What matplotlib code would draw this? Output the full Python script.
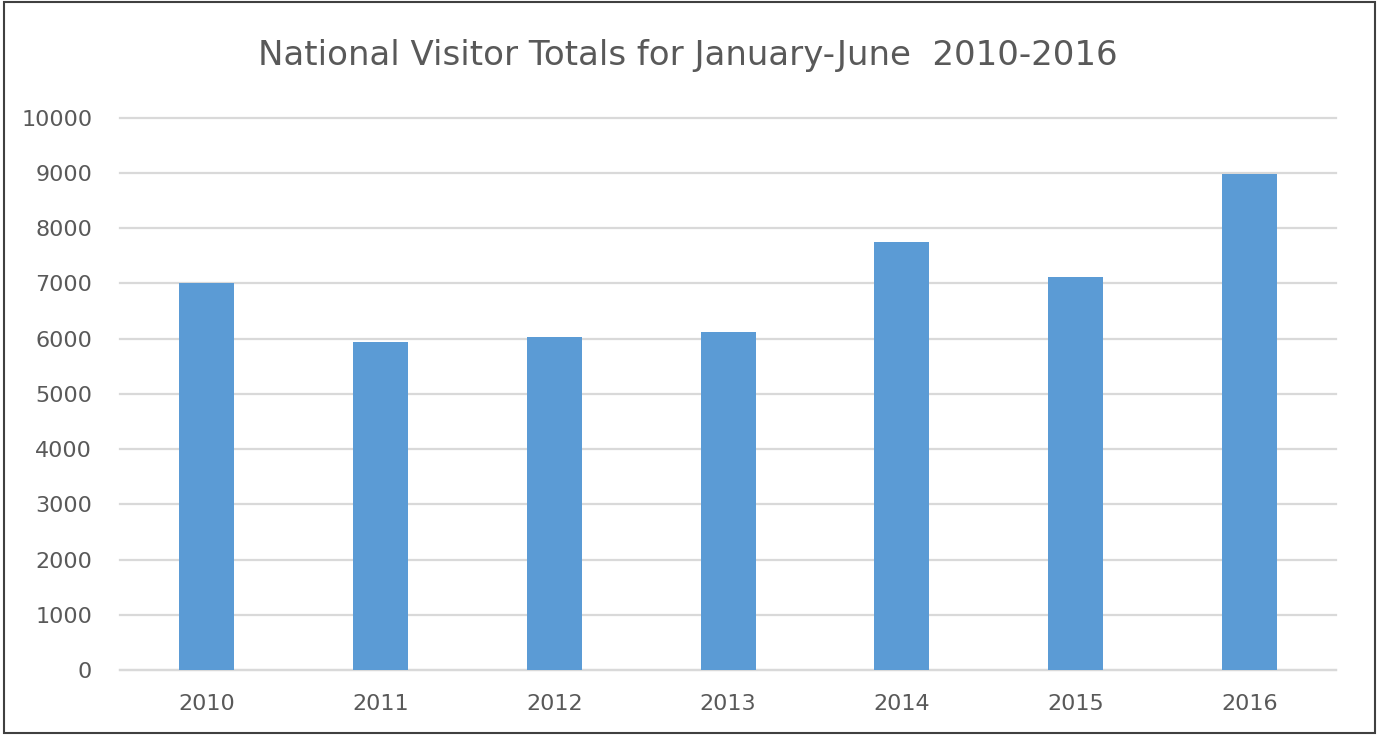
import matplotlib
matplotlib.use('Agg')
import matplotlib.pyplot as plt
from matplotlib.patches import Rectangle

# datos
years = ['2010', '2011', '2012', '2013', '2014', '2015', '2016']
visitors = [7010, 5930, 6030, 6110, 7740, 7110, 8980]
yticks = list(range(0, 10001, 1000))

fig = plt.figure(figsize=(13.79, 7.35), dpi=100)
ax = fig.add_axes([0.087, 0.0884, 0.882, 0.7516])

ax.bar(range(len(years)), visitors, width=0.317, color='#5B9BD5', zorder=3)

ax.set_xlim(-0.5, len(years) - 0.5)
ax.set_ylim(0, 10000)
ax.set_yticks(yticks)
ax.set_xticks(range(len(years)))
ax.set_xticklabels(years)
ax.yaxis.grid(True, color='#D9D9D9', linewidth=1.6, zorder=0)
for gl in ax.get_ygridlines():
    gl.set_clip_on(False)
ax.tick_params(axis='both', length=0, labelsize=16, labelcolor='#595959')
ax.tick_params(axis='y', pad=20)
ax.tick_params(axis='x', pad=17)
for s in ['left', 'right', 'top']:
    ax.spines[s].set_visible(False)
ax.spines['bottom'].set_color('#D9D9D9')
ax.spines['bottom'].set_linewidth(1.6)

fig.text(0.499, 0.925, 'National Visitor Totals for January-June  2010-2016',
         ha='center', va='center', fontsize=24.5, color='#595959')

# marco exterior
fig.patches.append(Rectangle((0.003, 0.003), 0.994, 0.994, transform=fig.transFigure,
                             fill=False, edgecolor='#404040', linewidth=1.5))

fig.savefig('out.png', dpi=100)
